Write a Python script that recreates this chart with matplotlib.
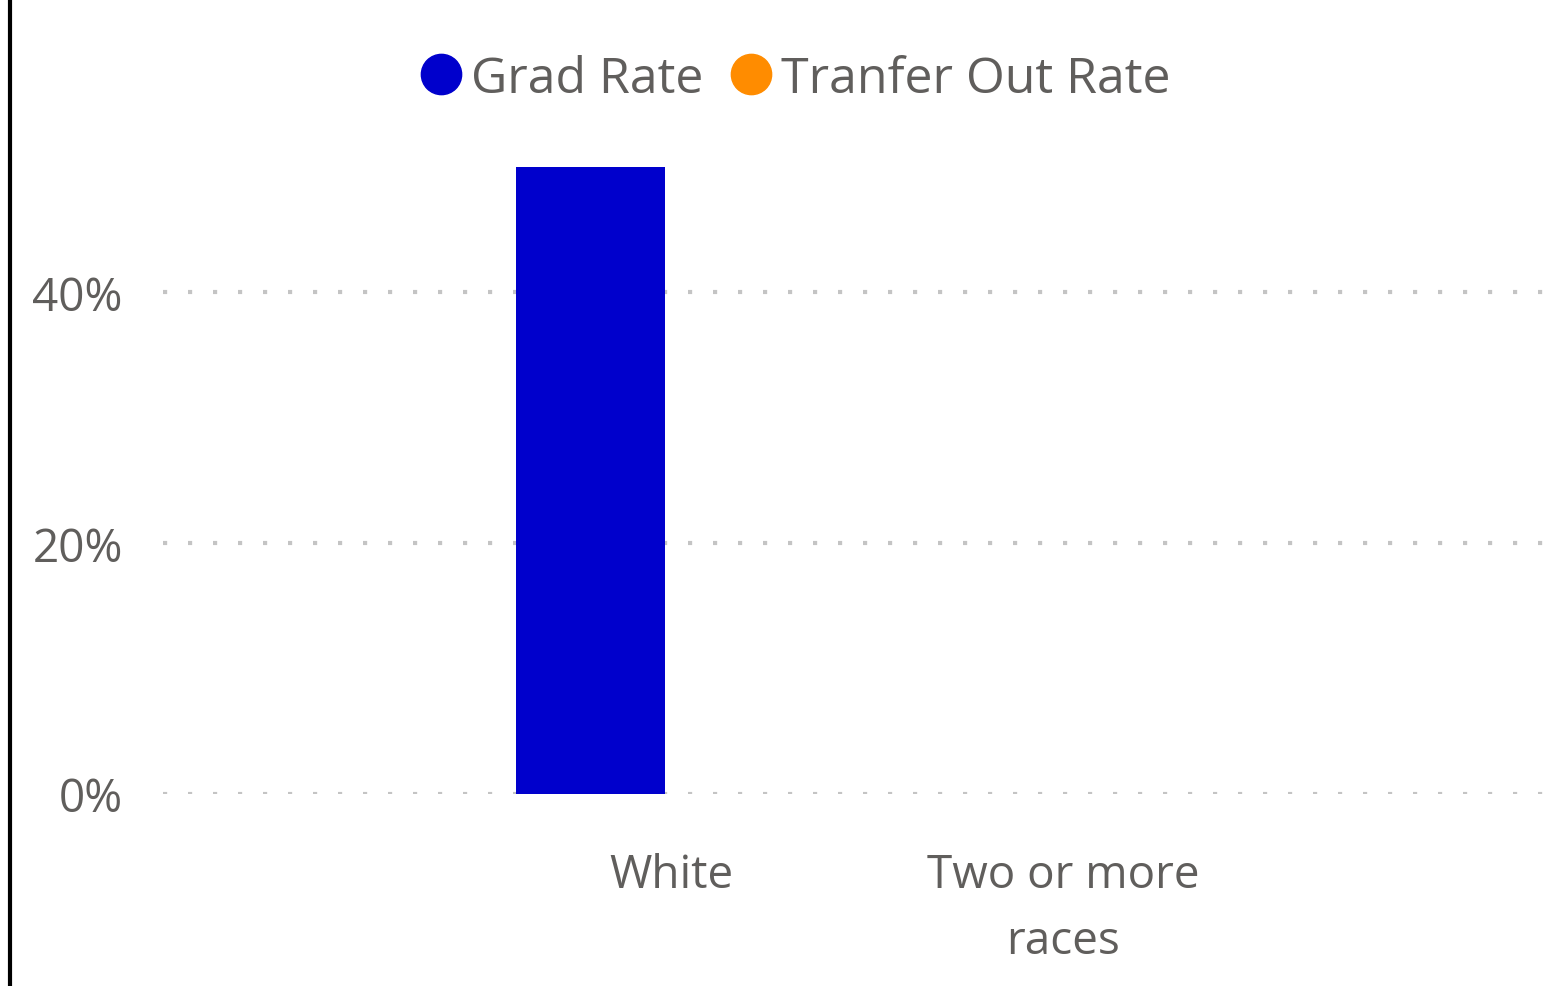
import matplotlib
matplotlib.use("Agg")
import matplotlib.pyplot as plt
from matplotlib.lines import Line2D
import numpy as np

categories = ["White", "Two or more\nraces"]
series_names = ["Grad Rate", "Tranfer Out Rate"]
grad_rate = [0.50, 0.0]
transfer_out_rate = [0.0, 0.0]
y_ticks = [0.0, 0.2, 0.4]
y_tick_labels = ["0%", "20%", "40%"]

colors = ["#0000CC", "#FF8C00"]
text_color = "#605E5C"
font = "Open Sans"

W, H = 1567, 987
fig = plt.figure(figsize=(W / 100, H / 100), dpi=100)
ax = fig.add_axes([163 / W, 1 - 795 / H, (1560 - 163) / W, (795 - 105) / H])

x = np.arange(len(categories))
bw = 0.38
ax.bar(x - bw / 2 - 0.018, grad_rate, width=bw, color=colors[0], zorder=3)
ax.bar(x + bw / 2 + 0.018, transfer_out_rate, width=bw, color=colors[1], zorder=3)

ax.set_xlim(-1.30, 2.27)
ax.set_ylim(0, 0.55)
ax.set_yticks(y_ticks)
ax.set_yticklabels(y_tick_labels, fontsize=33, color=text_color, family=font)
for lbl in ax.get_yticklabels():
    lbl.set_y(lbl.get_position()[1])
ax.set_xticks(x)
ax.set_xticklabels(categories, fontsize=33, color=text_color, family=font,
                   linespacing=1.55, ha="center", va="top")
ax.tick_params(axis="y", length=0, pad=29)
ax.tick_params(axis="x", length=0, pad=42)
for s in ax.spines.values():
    s.set_visible(False)
ax.set_axisbelow(True)
ax.grid(axis="y", color="#C4C4C4", linewidth=3.0, linestyle=(0, (1, 5)),
        dash_capstyle="butt")
for gl in ax.get_ygridlines():
    gl.set_zorder(0.5)

handles = [Line2D([], [], marker="o", linestyle="", markersize=29,
                  markerfacecolor=c, markeredgecolor=c) for c in colors]
leg = fig.legend(handles, series_names, loc="center",
                 bbox_to_anchor=(793 / W, 1 - 80 / H), ncol=2, frameon=False,
                 handletextpad=0.1, columnspacing=0.45, handlelength=1.0,
                 prop={"family": font, "size": 36})
for t in leg.get_texts():
    t.set_color(text_color)

fig.add_artist(Line2D([10 / W, 10 / W], [0, 1], color="black", linewidth=3,
                      transform=fig.transFigure))

fig.savefig("out.png", dpi=100)
